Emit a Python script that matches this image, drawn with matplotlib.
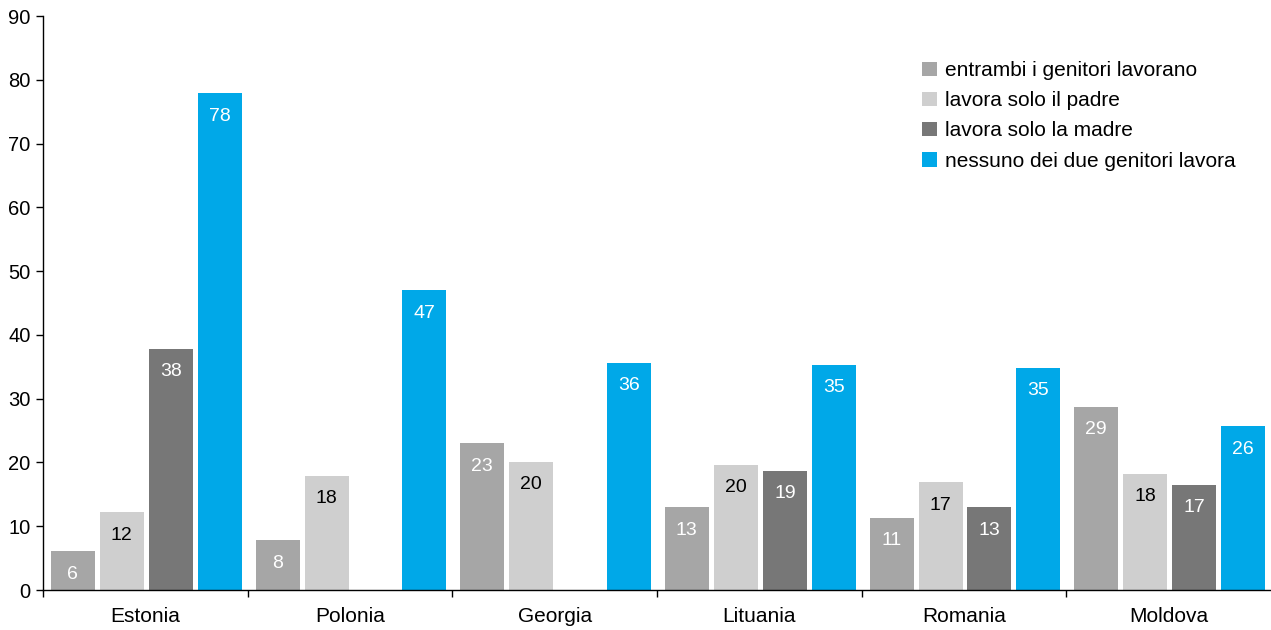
import numpy as np
import matplotlib
matplotlib.use("Agg")
import matplotlib.pyplot as plt
from matplotlib.patches import Patch

plt.rcParams['font.family'] = ['Liberation Sans', 'DejaVu Sans']

categories = ["Estonia", "Polonia", "Georgia", "Lituania", "Romania", "Moldova"]
series_names = [
    "entrambi i genitori lavorano",
    "lavora solo il padre",
    "lavora solo la madre",
    "nessuno dei due genitori lavora",
]
entrambi = [6.1, 7.8, 23.0, 13.0, 11.3, 28.7]
solo_padre = [12.2, 17.9, 20.1, 19.6, 16.9, 18.2]
solo_madre = [37.8, np.nan, np.nan, 18.7, 13.0, 16.5]
nessuno = [77.9, 47.0, 35.6, 35.3, 34.8, 25.7]
value_labels = [
    ["6", "8", "23", "13", "11", "29"],
    ["12", "18", "20", "20", "17", "18"],
    ["38", "", "", "19", "13", "17"],
    ["78", "47", "36", "35", "35", "26"],
]
yticks = [0, 10, 20, 30, 40, 50, 60, 70, 80, 90]

series = [entrambi, solo_padre, solo_madre, nessuno]
colors = ["#a6a6a6", "#cfcfcf", "#777777", "#00a8e8"]
label_colors = ["white", "black", "white", "white"]

fig = plt.figure(figsize=(12.71, 6.30), dpi=100)
ax = fig.add_axes([43/1271, 1 - 590/630, 1 - 43/1271, (590 - 16)/630])

x = np.arange(len(categories))
pitch = 49 / 204.7
width = 44 / 204.7
shift = 1.0 / 204.7

for i, (vals, col, lcol) in enumerate(zip(series, colors, label_colors)):
    pos = x + (i - 1.5) * pitch + shift
    v = np.array(vals, dtype=float)
    mask = ~np.isnan(v)
    ax.bar(pos[mask], v[mask], width=width, color=col, linewidth=0)
    for p, val, lab in zip(pos, v, value_labels[i]):
        if np.isnan(val) or not lab:
            continue
        ax.annotate(lab, xy=(p, val), xytext=(0, -16.5), textcoords="offset points",
                    ha="center", va="center", color=lcol, fontsize=14)

ax.set_xlim(-0.5, len(categories) - 0.5)
ax.set_ylim(0, 90)
ax.set_yticks(yticks)
ax.set_yticklabels([str(t) for t in yticks], fontsize=14.5)
ax.set_xticks(x)
ax.set_xticklabels(categories, fontsize=15)
ax.set_xticks(np.arange(-0.5, len(categories) - 0.5, 1.0), minor=True)
ax.tick_params(axis="x", which="major", length=0, pad=12)
ax.tick_params(axis="x", which="minor", length=5, width=1, direction="out")
ax.tick_params(axis="y", length=5, width=1, direction="out", pad=4)

for s in ["top", "right"]:
    ax.spines[s].set_visible(False)
ax.spines["left"].set_linewidth(1)
ax.spines["bottom"].set_linewidth(1)

handles = [Patch(facecolor=c, edgecolor="none") for c in colors]
fig.legend(handles, series_names, loc="upper left",
           bbox_to_anchor=(922/1271, 1 - 61/630), frameon=False, fontsize=15,
           handlelength=0.72, handleheight=0.67, handletextpad=0.38,
           labelspacing=0.54, borderaxespad=0, borderpad=0)

fig.savefig("out.png", dpi=100)
